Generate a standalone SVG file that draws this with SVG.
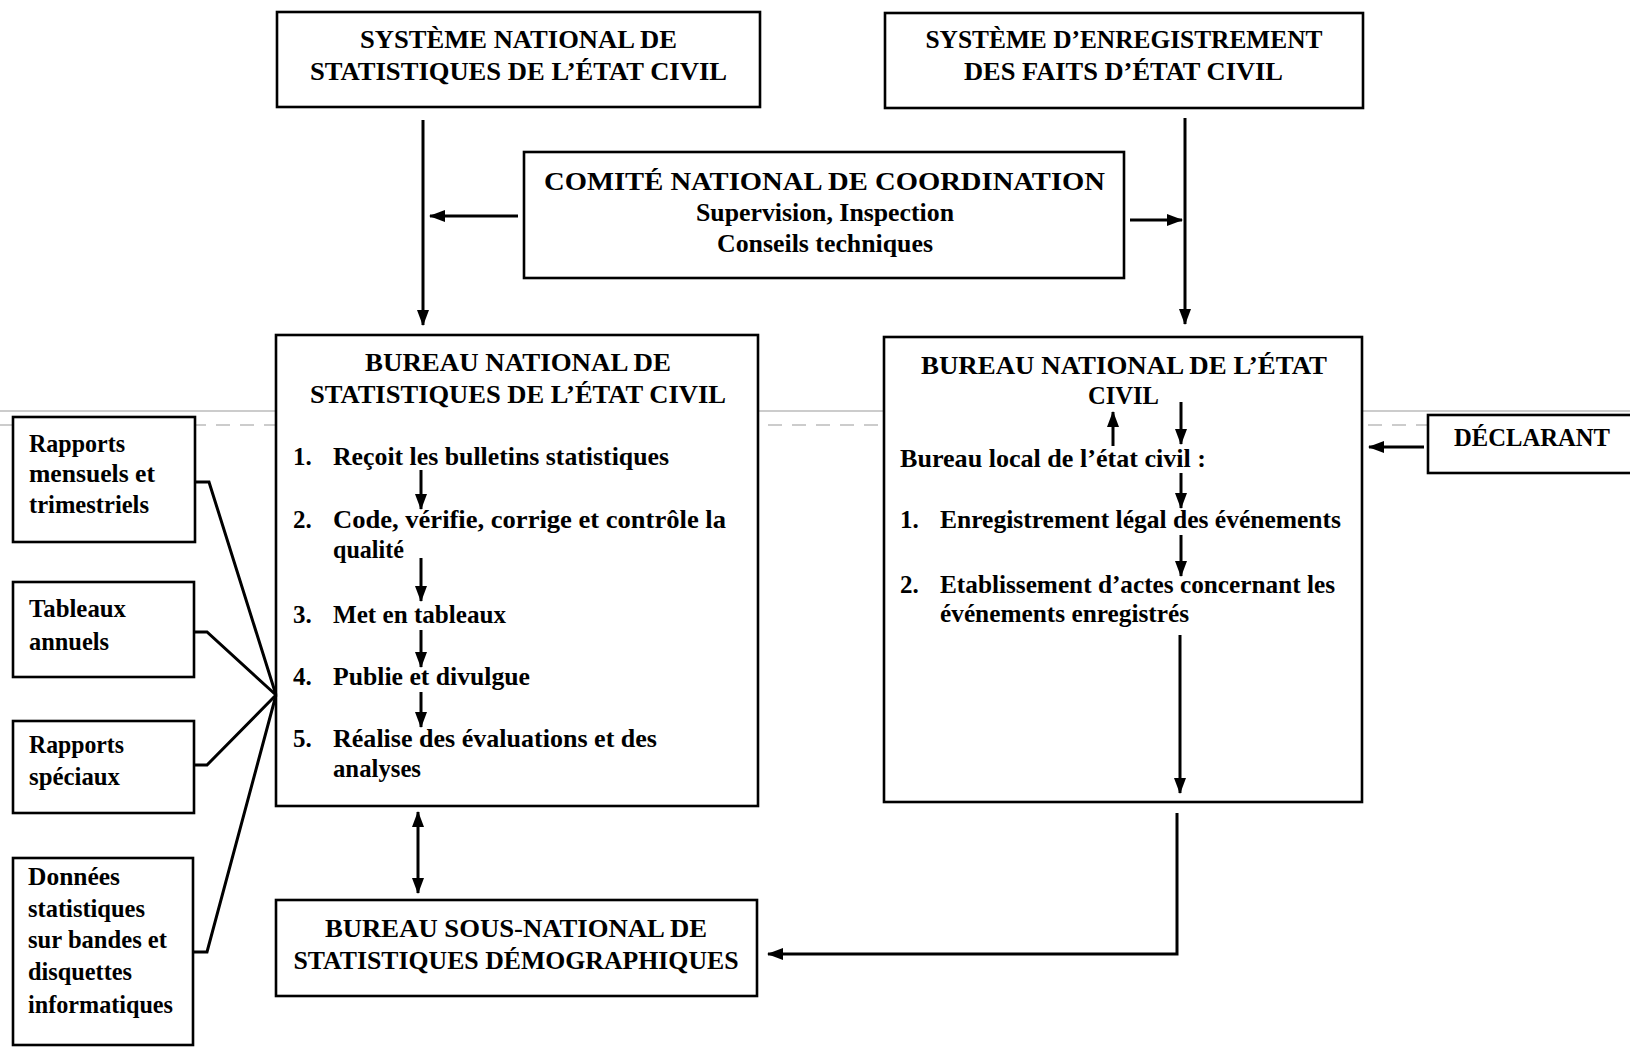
<svg xmlns="http://www.w3.org/2000/svg" width="1630" height="1048" viewBox="0 0 1630 1048">
<style>
.box{fill:#fff;stroke:#000;stroke-width:2.6}
.t{font-family:"Liberation Serif","Times New Roman",serif;font-weight:bold;font-size:25px;fill:#000}
.c{text-anchor:middle}
.ln{fill:none;stroke:#000;stroke-width:3}
.scan{fill:none;stroke:#999;stroke-width:1}
</style>
<defs>
<marker id="ah" markerUnits="userSpaceOnUse" markerWidth="16" markerHeight="12" refX="15" refY="6" orient="auto-start-reverse">
<path d="M0,0 L16,6 L0,12 z" fill="#000"/>
</marker>
</defs>
<rect width="1630" height="1048" fill="#fff"/>
<g id="scanlines">
<line class="scan" x1="0" y1="411" x2="1630" y2="411"/>
<line class="scan" x1="0" y1="425" x2="1630" y2="425" stroke-dasharray="14 10" stroke="#bbb"/>
</g>
<g id="sys-stat">
<rect class="box" x="277" y="12" width="483" height="95"/>
<text class="t c" x="518.5" y="48" textLength="317" lengthAdjust="spacingAndGlyphs">SYSTÈME NATIONAL DE</text>
<text class="t c" x="518.5" y="80" textLength="417" lengthAdjust="spacingAndGlyphs">STATISTIQUES DE L’ÉTAT CIVIL</text>
</g>
<g id="sys-enreg">
<rect class="box" x="885" y="13" width="478" height="95"/>
<text class="t c" x="1124" y="48" textLength="397" lengthAdjust="spacingAndGlyphs">SYSTÈME D’ENREGISTREMENT</text>
<text class="t c" x="1123.5" y="80" textLength="319" lengthAdjust="spacingAndGlyphs">DES FAITS D’ÉTAT CIVIL</text>
</g>
<g id="comite">
<rect class="box" x="524" y="152" width="600" height="126"/>
<text class="t c" x="824.5" y="190" font-size="27" font-weight="normal" textLength="561" lengthAdjust="spacingAndGlyphs">COMITÉ NATIONAL DE COORDINATION</text>
<text class="t c" x="825" y="221" font-size="23" textLength="258" lengthAdjust="spacingAndGlyphs">Supervision, Inspection</text>
<text class="t c" x="825" y="252" font-size="23" textLength="216" lengthAdjust="spacingAndGlyphs">Conseils techniques</text>
</g>
<g id="bureau-stat">
<rect class="box" x="276" y="335" width="482" height="471"/>
<text class="t c" x="518" y="371" textLength="306" lengthAdjust="spacingAndGlyphs">BUREAU NATIONAL DE</text>
<text class="t c" x="518" y="403" textLength="416" lengthAdjust="spacingAndGlyphs">STATISTIQUES DE L’ÉTAT CIVIL</text>
<text class="t" x="293" y="465">1.</text>
<text class="t" x="333" y="465" textLength="336" lengthAdjust="spacingAndGlyphs">Reçoit les bulletins statistiques</text>
<text class="t" x="293" y="528">2.</text>
<text class="t" x="333" y="528" textLength="393" lengthAdjust="spacingAndGlyphs">Code, vérifie, corrige et contrôle la</text>
<text class="t" x="333" y="558" textLength="71" lengthAdjust="spacingAndGlyphs">qualité</text>
<text class="t" x="293" y="623">3.</text>
<text class="t" x="333" y="623" textLength="173" lengthAdjust="spacingAndGlyphs">Met en tableaux</text>
<text class="t" x="293" y="685">4.</text>
<text class="t" x="333" y="685" textLength="197" lengthAdjust="spacingAndGlyphs">Publie et divulgue</text>
<text class="t" x="293" y="747">5.</text>
<text class="t" x="333" y="747" textLength="324" lengthAdjust="spacingAndGlyphs">Réalise des évaluations et des</text>
<text class="t" x="333" y="777" textLength="88" lengthAdjust="spacingAndGlyphs">analyses</text>
</g>
<g id="bureau-etat">
<rect class="box" x="884" y="337" width="478" height="465"/>
<text class="t c" x="1124" y="374" textLength="406" lengthAdjust="spacingAndGlyphs">BUREAU NATIONAL DE L’ÉTAT</text>
<text class="t c" x="1123.5" y="404" textLength="71" lengthAdjust="spacingAndGlyphs">CIVIL</text>
<text class="t" x="900" y="467" textLength="306" lengthAdjust="spacingAndGlyphs">Bureau local de l’état civil :</text>
<text class="t" x="900" y="528">1.</text>
<text class="t" x="940" y="528" textLength="401" lengthAdjust="spacingAndGlyphs">Enregistrement légal des événements</text>
<text class="t" x="900" y="593">2.</text>
<text class="t" x="940" y="593" textLength="395" lengthAdjust="spacingAndGlyphs">Etablissement d’actes concernant les</text>
<text class="t" x="940" y="622" textLength="249" lengthAdjust="spacingAndGlyphs">événements enregistrés</text>
</g>
<g id="declarant">
<rect class="box" x="1428" y="415" width="215" height="58"/>
<text class="t" x="1454" y="446" textLength="156" lengthAdjust="spacingAndGlyphs">DÉCLARANT</text>
</g>
<g id="sous-national">
<rect class="box" x="276" y="900" width="481" height="96"/>
<text class="t c" x="516" y="937" textLength="382" lengthAdjust="spacingAndGlyphs">BUREAU SOUS-NATIONAL DE</text>
<text class="t c" x="516" y="969" textLength="445" lengthAdjust="spacingAndGlyphs">STATISTIQUES DÉMOGRAPHIQUES</text>
</g>
<g id="rapports-mensuels">
<rect class="box" x="13" y="417" width="182" height="125"/>
<text class="t" x="29" y="452" textLength="96" lengthAdjust="spacingAndGlyphs">Rapports</text>
<text class="t" x="29" y="482" textLength="126" lengthAdjust="spacingAndGlyphs">mensuels et</text>
<text class="t" x="29" y="513" textLength="120" lengthAdjust="spacingAndGlyphs">trimestriels</text>
</g>
<g id="tableaux-annuels">
<rect class="box" x="13" y="582" width="181" height="95"/>
<text class="t" x="29" y="617" textLength="97" lengthAdjust="spacingAndGlyphs">Tableaux</text>
<text class="t" x="29" y="650" textLength="80" lengthAdjust="spacingAndGlyphs">annuels</text>
</g>
<g id="rapports-speciaux">
<rect class="box" x="13" y="721" width="181" height="92"/>
<text class="t" x="29" y="753" textLength="95" lengthAdjust="spacingAndGlyphs">Rapports</text>
<text class="t" x="29" y="785" textLength="91" lengthAdjust="spacingAndGlyphs">spéciaux</text>
</g>
<g id="donnees">
<rect class="box" x="13" y="858" width="180" height="187"/>
<text class="t" x="28" y="885" textLength="92" lengthAdjust="spacingAndGlyphs">Données</text>
<text class="t" x="28" y="917" textLength="117" lengthAdjust="spacingAndGlyphs">statistiques</text>
<text class="t" x="28" y="948" textLength="139" lengthAdjust="spacingAndGlyphs">sur bandes et</text>
<text class="t" x="28" y="980" textLength="104" lengthAdjust="spacingAndGlyphs">disquettes</text>
<text class="t" x="28" y="1013" textLength="145" lengthAdjust="spacingAndGlyphs">informatiques</text>
</g>
<g id="connectors">
<line class="ln" x1="423" y1="120" x2="423" y2="325" marker-end="url(#ah)"/>
<line class="ln" x1="518" y1="216" x2="430" y2="216" marker-end="url(#ah)"/>
<line class="ln" x1="1185" y1="118" x2="1185" y2="324" marker-end="url(#ah)"/>
<line class="ln" x1="1130" y1="220" x2="1182" y2="220" marker-end="url(#ah)"/>
<line class="ln" x1="421" y1="470" x2="421" y2="509" marker-end="url(#ah)"/>
<line class="ln" x1="421" y1="558" x2="421" y2="601" marker-end="url(#ah)"/>
<line class="ln" x1="421" y1="630" x2="421" y2="667" marker-end="url(#ah)"/>
<line class="ln" x1="421" y1="692" x2="421" y2="727" marker-end="url(#ah)"/>
<polyline class="ln" points="195,482 209,482 276,695"/>
<polyline class="ln" points="194,632 207,632 276,695"/>
<polyline class="ln" points="194,765 207,765 276,695"/>
<polyline class="ln" points="193,952 207,952 276,695"/>
<line class="ln" x1="418" y1="812" x2="418" y2="893" marker-start="url(#ah)" marker-end="url(#ah)"/>
<line class="ln" x1="1113" y1="446" x2="1113" y2="412" marker-end="url(#ah)"/>
<line class="ln" x1="1181" y1="402" x2="1181" y2="444" marker-end="url(#ah)"/>
<line class="ln" x1="1181" y1="473" x2="1181" y2="508" marker-end="url(#ah)"/>
<line class="ln" x1="1181" y1="535" x2="1181" y2="576" marker-end="url(#ah)"/>
<line class="ln" x1="1180" y1="635" x2="1180" y2="793" marker-end="url(#ah)"/>
<line class="ln" x1="1424" y1="447" x2="1369" y2="447" marker-end="url(#ah)"/>
<polyline class="ln" points="1177,813 1177,954 768,954" marker-end="url(#ah)"/>
</g>
</svg>
